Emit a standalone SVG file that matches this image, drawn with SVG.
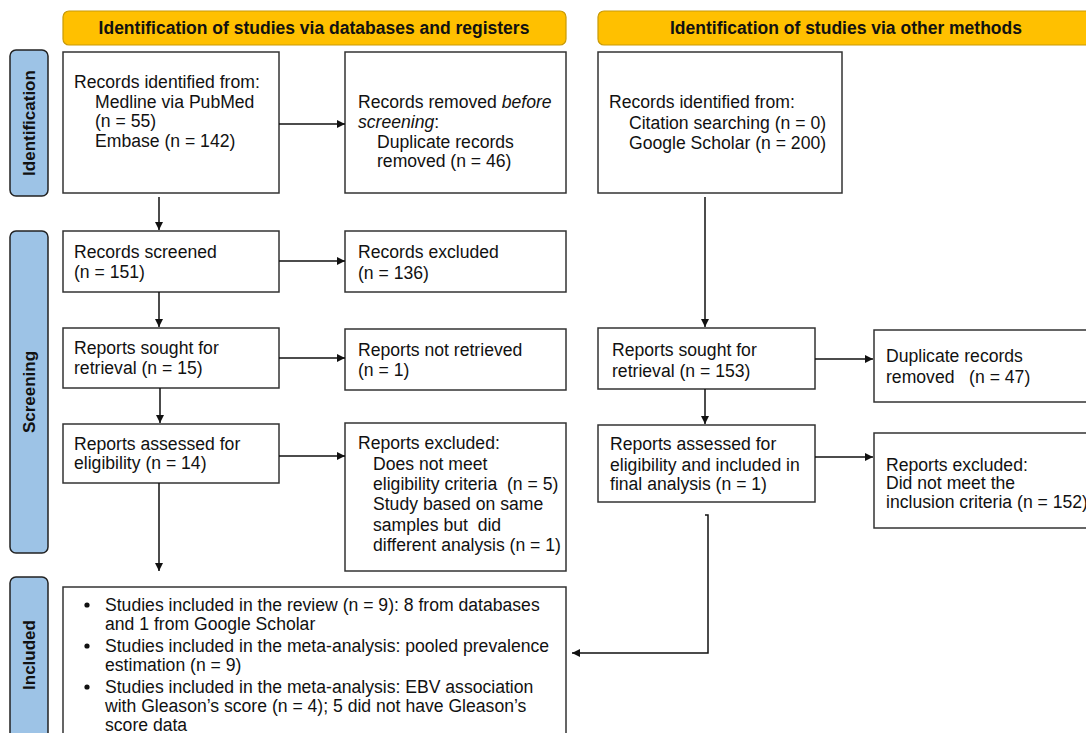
<svg xmlns="http://www.w3.org/2000/svg" width="1086" height="733" viewBox="0 0 1086 733">
<style>
text{font-family:"Liberation Sans",Arial,sans-serif;font-size:17.6px;fill:#111;white-space:pre}
.hdr{fill:#FFC000;stroke:#C99A06;stroke-width:1.2}
.hdrt{font-weight:bold;text-anchor:middle;font-size:17.5px}
.side{fill:#9DC3E6;stroke:#222;stroke-width:1.5}
.sidet{font-weight:bold;text-anchor:middle;font-size:17px}
.box{fill:#fff;stroke:#333;stroke-width:1.5}
.con{fill:none;stroke:#111;stroke-width:1.5}
</style>
<defs>
<marker id="ah" viewBox="0 0 10 10" refX="10" refY="5" markerWidth="8" markerHeight="8" markerUnits="userSpaceOnUse" orient="auto">
<path d="M0,0 L10,5 L0,10 z" fill="#111"/>
</marker>
</defs>
<rect width="1086" height="733" fill="#fff"/>

<g id="header-db"><rect class="hdr" x="63" y="11" width="503" height="34" rx="6"/><text class="hdrt" x="314" y="34">Identification of studies via databases and registers</text></g>
<g id="header-other"><rect class="hdr" x="598" y="11" width="520" height="34" rx="6"/><text class="hdrt" x="846" y="34">Identification of studies via other methods</text></g>

<g id="label-identification"><rect class="side" x="10" y="50" width="38" height="146" rx="6"/><text class="sidet" transform="translate(35,123) rotate(-90)">Identification</text></g>
<g id="label-screening"><rect class="side" x="10" y="231" width="38" height="322" rx="6"/><text class="sidet" transform="translate(35,392) rotate(-90)">Screening</text></g>
<g id="label-included"><rect class="side" x="10" y="577" width="38" height="170" rx="6"/><text class="sidet" transform="translate(35,655) rotate(-90)">Included</text></g>

<g id="db-identified"><rect class="box" x="63" y="52" width="216" height="141"/>
<text x="74" y="88">Records identified from:</text>
<text x="95" y="108">Medline via PubMed</text>
<text x="95" y="127">(n = 55)</text>
<text x="95" y="147">Embase (n = 142)</text></g>

<g id="db-removed"><rect class="box" x="345" y="52" width="221" height="141"/>
<text x="358" y="108">Records removed <tspan font-style="italic">before</tspan></text>
<text x="358" y="128"><tspan font-style="italic">screening</tspan>:</text>
<text x="377" y="148">Duplicate records</text>
<text x="377" y="167">removed (n = 46)</text></g>

<g id="db-screened"><rect class="box" x="63" y="231" width="216" height="61"/>
<text x="74" y="258">Records screened</text>
<text x="74" y="278">(n = 151)</text></g>

<g id="db-excluded"><rect class="box" x="345" y="231" width="221" height="61"/>
<text x="358" y="258">Records excluded</text>
<text x="358" y="279">(n = 136)</text></g>

<g id="db-sought"><rect class="box" x="63" y="328" width="216" height="60"/>
<text x="74" y="354">Reports sought for</text>
<text x="74" y="374">retrieval (n = 15)</text></g>

<g id="db-notretrieved"><rect class="box" x="345" y="329" width="221" height="61"/>
<text x="358" y="356">Reports not retrieved</text>
<text x="358" y="376">(n = 1)</text></g>

<g id="db-assessed"><rect class="box" x="63" y="424" width="216" height="59"/>
<text x="74" y="450">Reports assessed for</text>
<text x="74" y="469">eligibility (n = 14)</text></g>

<g id="db-reportsexcluded"><rect class="box" x="345" y="423" width="221" height="148"/>
<text x="358" y="449">Reports excluded:</text>
<text x="373" y="470">Does not meet</text>
<text x="373" y="490">eligibility criteria  (n = 5)</text>
<text x="373" y="510">Study based on same</text>
<text x="373" y="531">samples but  did</text>
<text x="373" y="551">different analysis (n = 1)</text></g>

<g id="other-identified"><rect class="box" x="598" y="52" width="244" height="141"/>
<text x="609" y="108">Records identified from:</text>
<text x="629" y="129">Citation searching (n = 0)</text>
<text x="629" y="149">Google Scholar (n = 200)</text></g>

<g id="other-sought"><rect class="box" x="598" y="328" width="217" height="61"/>
<text x="612" y="356">Reports sought for</text>
<text x="612" y="377">retrieval (n = 153)</text></g>

<g id="other-duplicates"><rect class="box" x="874" y="330" width="240" height="72"/>
<text x="886" y="362">Duplicate records</text>
<text x="886" y="383">removed   (n = 47)</text></g>

<g id="other-assessed"><rect class="box" x="598" y="425" width="217" height="77"/>
<text x="610" y="450">Reports assessed for</text>
<text x="610" y="471">eligibility and included in</text>
<text x="610" y="490">final analysis (n = 1)</text></g>

<g id="other-excluded"><rect class="box" x="874" y="433" width="240" height="95"/>
<text x="886" y="471">Reports excluded:</text>
<text x="886" y="489">Did not meet the</text>
<text x="886" y="508">inclusion criteria (n = 152)</text></g>

<g id="included"><rect class="box" x="63" y="587" width="503" height="160"/>
<circle cx="87" cy="605" r="2.6" fill="#111"/>
<text x="105" y="611">Studies included in the review (n = 9): 8 from databases</text>
<text x="105" y="630">and 1 from Google Scholar</text>
<circle cx="87" cy="646" r="2.6" fill="#111"/>
<text x="105" y="652">Studies included in the meta-analysis: pooled prevalence</text>
<text x="105" y="671">estimation (n = 9)</text>
<circle cx="87" cy="687" r="2.6" fill="#111"/>
<text x="105" y="693">Studies included in the meta-analysis: EBV association</text>
<text x="105" y="712">with Gleason’s score (n = 4); 5 did not have Gleason’s</text>
<text x="105" y="731">score data</text></g>

<g id="connectors">
<line class="con" x1="279" y1="124" x2="345" y2="124" marker-end="url(#ah)"/>
<line class="con" x1="279" y1="261" x2="345" y2="261" marker-end="url(#ah)"/>
<line class="con" x1="279" y1="358" x2="345" y2="358" marker-end="url(#ah)"/>
<line class="con" x1="279" y1="456" x2="345" y2="456" marker-end="url(#ah)"/>
<line class="con" x1="159" y1="197" x2="159" y2="230" marker-end="url(#ah)"/>
<line class="con" x1="159" y1="292" x2="159" y2="327" marker-end="url(#ah)"/>
<line class="con" x1="160" y1="388" x2="160" y2="423" marker-end="url(#ah)"/>
<line class="con" x1="159" y1="483" x2="159" y2="571" marker-end="url(#ah)"/>
<line class="con" x1="705" y1="197" x2="705" y2="327" marker-end="url(#ah)"/>
<line class="con" x1="705" y1="389" x2="705" y2="424" marker-end="url(#ah)"/>
<line class="con" x1="815" y1="359" x2="873" y2="359" marker-end="url(#ah)"/>
<line class="con" x1="815" y1="457" x2="873" y2="457" marker-end="url(#ah)"/>
<polyline class="con" points="705,515 708,515 708,653 572,653" marker-end="url(#ah)"/>
</g>
</svg>
